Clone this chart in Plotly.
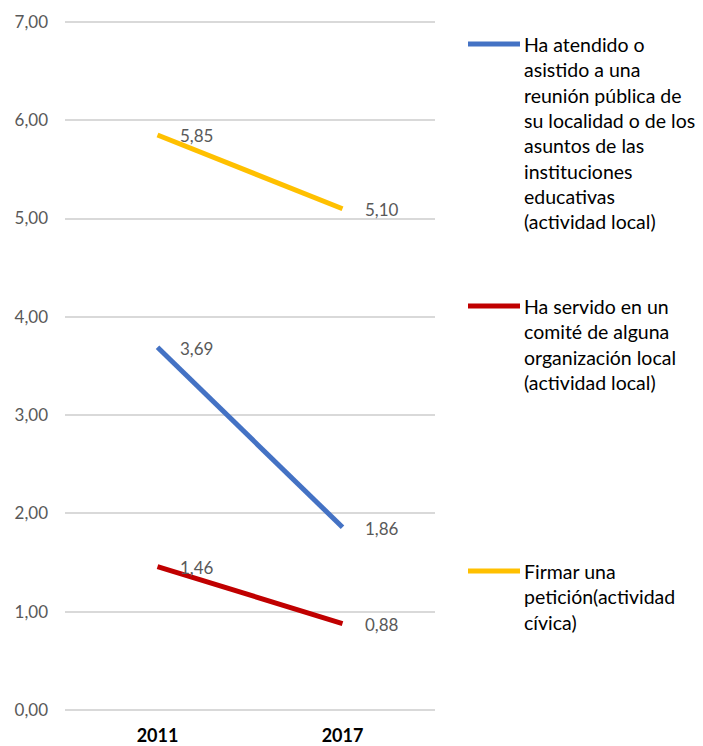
import plotly.graph_objects as go

years = ["2011", "2017"]
series_names = [
    "Ha atendido o<br>asistido a una<br>reunión pública de<br>su localidad o de los<br>asuntos de las<br>instituciones<br>educativas<br>(actividad local)",
    "Ha servido en un<br>comité de alguna<br>organización local<br>(actividad local)",
    "Firmar una<br>petición(actividad<br>cívica)",
]
asistencia = [3.69, 1.86]
comite = [1.46, 0.88]
peticion = [5.85, 5.10]
series_values = [asistencia, comite, peticion]
colors = ["#4472C4", "#C00000", "#FFC000"]
y_ticks = [0, 1, 2, 3, 4, 5, 6, 7]
y_tick_labels = ["0,00", "1,00", "2,00", "3,00", "4,00", "5,00", "6,00", "7,00"]

W, H = 703, 746
Y0_PX, Y7_PX = 710, 22
PAD = 0.04
unit = (Y0_PX - Y7_PX) / 7.0
PL, PR = 65, 435
PT = Y7_PX - PAD * unit
PB = Y0_PX + PAD * unit
L = PL
T = PT
R = W - PR
B = H - PB
plot_w = PR - PL
plot_h = PB - PT

def px_x(px):
    return (px - PL) / plot_w

def px_y(py):
    return (PB - py) / plot_h

FONT = "Lato"

fig = go.Figure()
annotations = []
for vals, col in zip(series_values, colors):
    fig.add_trace(go.Scatter(
        x=years, y=vals, mode="lines",
        line=dict(color=col, width=5),
        showlegend=False, hoverinfo="skip",
    ))
    for i, yv in enumerate(vals):
        annotations.append(dict(
            x=i, y=yv, xref="x", yref="y",
            text=f"{yv:.2f}".replace(".", ","),
            showarrow=False, xanchor="left", yanchor="middle",
            xshift=20, yshift=-1, font=dict(family=FONT, size=17, color="#595959"),
        ))

# custom legend
legend_y_px = [44, 306, 571]
for name, col, ly in zip(series_names, colors, legend_y_px):
    fig.add_shape(type="line", xref="paper", yref="paper",
                  x0=px_x(468), x1=px_x(520), y0=px_y(ly), y1=px_y(ly),
                  line=dict(color=col, width=5))
    annotations.append(dict(
        x=px_x(522), y=px_y(ly - 13), xref="paper", yref="paper",
        text=name, showarrow=False, xanchor="left", yanchor="top",
        align="left", font=dict(family=FONT, size=19.5, color="#000000"),
    ))

fig.update_layout(
    width=W, height=H,
    margin=dict(l=L, r=R, t=T, b=B, autoexpand=False),
    paper_bgcolor="white", plot_bgcolor="white",
    font=dict(family=FONT),
    annotations=annotations,
    showlegend=False,
)
fig.update_xaxes(
    type="category", range=[-0.5, 1.5], showgrid=False, showline=False,
    zeroline=False, ticks="", ticklabelstandoff=9, automargin=False,
    tickfont=dict(family=FONT, size=18, color="#000000", weight="bold"),
)
fig.update_yaxes(
    range=[-PAD, 7 + PAD], tickvals=y_ticks, ticktext=y_tick_labels,
    showgrid=True, gridcolor="#D9D9D9", gridwidth=1.5,
    zeroline=False, automargin=False,
    showline=False, ticks="", ticklabelstandoff=16,
    tickfont=dict(family=FONT, size=17, color="#595959"),
)

fig.write_html(
    "out.html",
    config={"displayModeBar": False},
    post_script="document.body.style.margin='0px';document.body.style.overflow='hidden';",
)
